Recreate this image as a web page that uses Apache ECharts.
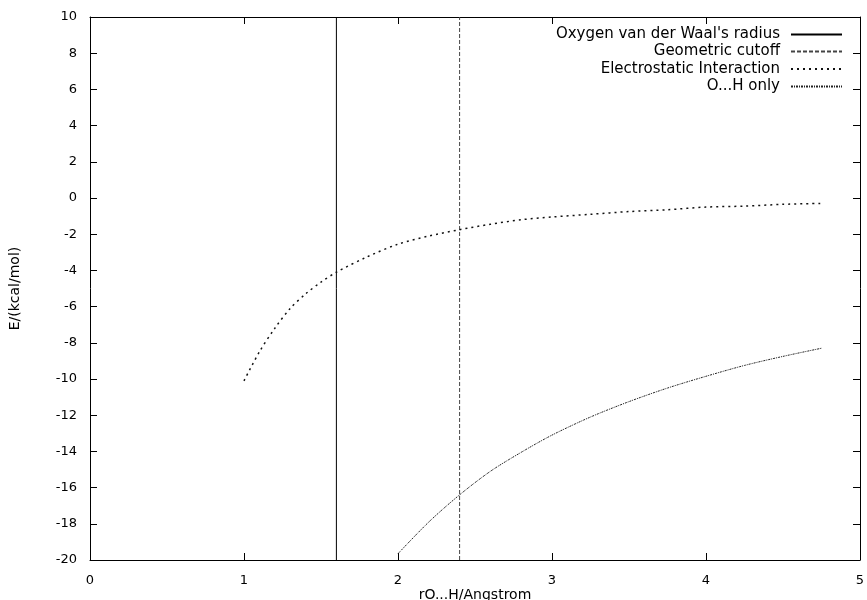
<!DOCTYPE html>
<html>
<head>
<meta charset="utf-8">
<script src="https://cdn.jsdelivr.net/npm/echarts@6/dist/echarts.min.js"></script>
<style>
html,body{margin:0;padding:0;background:#fff;}
#c{width:867px;height:600px;}
</style>
</head>
<body>
<div id="c"></div>
<script>
// Data
var vdwRadiusX = [1.6, 1.6];
var vdwRadiusY = [-20, 10];
var cutoffX = [2.4, 2.4];
var cutoffY = [-20, 10];
var elecX = [1.0, 1.1, 1.2, 1.3, 1.4, 1.5, 1.6, 1.8, 2.0, 2.2, 2.4, 2.6, 2.8, 3.0, 3.25, 3.5, 3.75, 4.0, 4.25, 4.5, 4.75];
var elecY = [-10.1, -8.5, -7.2, -6.1, -5.3, -4.65, -4.1, -3.25, -2.55, -2.1, -1.75, -1.45, -1.2, -1.05, -0.9, -0.75, -0.65, -0.5, -0.45, -0.35, -0.3];
var ohX = [2.0, 2.2, 2.4, 2.6, 2.8, 3.0, 3.25, 3.5, 3.75, 4.0, 4.25, 4.5, 4.75];
var ohY = [-19.65, -17.9, -16.4, -15.1, -14.05, -13.1, -12.1, -11.25, -10.5, -9.85, -9.25, -8.75, -8.3];
var seriesNames = ["Oxygen van der Waal's radius", "Geometric cutoff", "Electrostatic Interaction", "O...H only"];
var xTitle = "rO...H/Angstrom";
var yTitle = "E/(kcal/mol)";

function zip(a, b) { return a.map(function (v, i) { return [v, b[i]]; }); }

var font = "'DejaVu Sans', 'Liberation Sans', Arial, sans-serif";
var chart = echarts.init(document.getElementById('c'), null, {renderer: 'canvas'});

var styles = [
  {color: '#000', type: 'solid', width: 1},
  {color: '#444', type: [4, 2], width: 1},
  {color: '#111', type: [2, 4], width: 1.5},
  {color: '#222', type: [2, 1, 1, 1], width: 1}
];

function mkLegend(i, top) {
  return {
    data: [seriesNames[i]],
    right: 24, top: top,
    orient: 'horizontal', align: 'right',
    itemWidth: 51, itemHeight: 8, itemGap: 0,
    padding: 0,
    textStyle: {fontFamily: font, fontSize: 15, color: '#000', padding: [0, 6, 0, 0]},
    itemStyle: {opacity: 0},
    selectedMode: false
  };
}

var axisLine = {show: true, onZero: false, lineStyle: {color: '#000', width: 1}};
var tickIn = {show: true, inside: true, length: 7, lineStyle: {color: '#000'}};

chart.setOption({
  animation: false,
  backgroundColor: '#fff',
  grid: {left: 90, right: 7, top: 17, bottom: 40, show: false, outerBoundsMode: 'none', containLabel: false},
  legend: [mkLegend(0, 27), mkLegend(1, 44), mkLegend(2, 61.5), mkLegend(3, 79)],
  xAxis: [{
    type: 'value', min: 0, max: 5, interval: 1, position: 'bottom',
    axisLine: axisLine, axisTick: tickIn, splitLine: {show: false},
    axisLabel: {fontFamily: font, fontSize: 13, color: '#000', margin: 14},
    name: xTitle, nameLocation: 'middle', nameGap: 28, nameMoveOverlap: false,
    nameTextStyle: {fontFamily: font, fontSize: 14, color: '#000'}
  }, {
    type: 'value', min: 0, max: 5, interval: 1, position: 'top',
    axisLine: axisLine, axisTick: tickIn, splitLine: {show: false},
    axisLabel: {show: false}
  }],
  yAxis: [{
    type: 'value', min: -20, max: 10, interval: 2, position: 'left',
    axisLine: axisLine, axisTick: tickIn, splitLine: {show: false},
    axisLabel: {fontFamily: font, fontSize: 13, color: '#000', margin: 13},
    name: yTitle, nameLocation: 'middle', nameGap: 68, nameRotate: 90, nameMoveOverlap: false,
    nameTextStyle: {fontFamily: font, fontSize: 14, color: '#000'}
  }, {
    type: 'value', min: -20, max: 10, interval: 2, position: 'right',
    axisLine: axisLine, axisTick: tickIn, splitLine: {show: false},
    axisLabel: {show: false}
  }],
  series: [
    {name: seriesNames[0], type: 'line', data: zip(vdwRadiusX, vdwRadiusY), symbol: 'none', lineStyle: styles[0], itemStyle: {color: styles[0].color}},
    {name: seriesNames[1], type: 'line', data: zip(cutoffX, cutoffY), symbol: 'none', lineStyle: styles[1], itemStyle: {color: styles[1].color}},
    {name: seriesNames[2], type: 'line', data: zip(elecX, elecY), symbol: 'none', smooth: 0.3, lineStyle: styles[2], itemStyle: {color: styles[2].color}},
    {name: seriesNames[3], type: 'line', data: zip(ohX, ohY), symbol: 'none', smooth: 0.3, lineStyle: styles[3], itemStyle: {color: styles[3].color}}
  ]
});
</script>
</body>
</html>
